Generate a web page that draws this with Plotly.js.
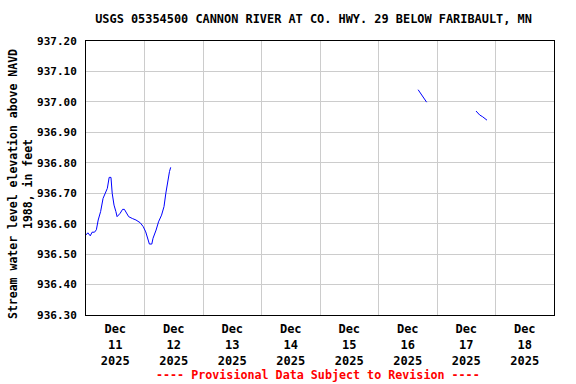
<!DOCTYPE html>
<html>
<head>
<meta charset="utf-8">
<script src="https://cdn.plot.ly/plotly-3.0.1.min.js"></script>
<style>html,body{margin:0;padding:0;background:#fff;}#chart{width:576px;height:384px;}</style>
</head>
<body>
<div id="chart"></div>
<script>
// Segment 1: Dec 11 - Dec 12
const times1 = ["2025-12-11 00:00","2025-12-11 00:45","2025-12-11 01:45","2025-12-11 02:30","2025-12-11 03:30","2025-12-11 04:15","2025-12-11 05:00","2025-12-11 06:00","2025-12-11 07:00","2025-12-11 08:00","2025-12-11 08:45","2025-12-11 09:30","2025-12-11 10:15","2025-12-11 10:45","2025-12-11 11:30","2025-12-11 12:15","2025-12-11 12:45","2025-12-11 14:00","2025-12-11 15:00","2025-12-11 15:45","2025-12-11 16:45","2025-12-11 17:30","2025-12-11 19:00","2025-12-11 20:30","2025-12-11 22:15","2025-12-11 23:30","2025-12-12 00:30","2025-12-12 01:30","2025-12-12 02:00","2025-12-12 03:00","2025-12-12 03:30","2025-12-12 04:45","2025-12-12 05:45","2025-12-12 07:00","2025-12-12 08:00","2025-12-12 08:45","2025-12-12 09:30","2025-12-12 10:15","2025-12-12 10:45"];
const values1 = [936.563,936.570,936.560,936.572,936.572,936.580,936.612,936.640,936.683,936.705,936.716,936.752,936.752,936.700,936.661,936.640,936.623,936.634,936.647,936.647,936.634,936.623,936.617,936.612,936.603,936.590,936.573,936.546,936.533,936.533,936.552,936.579,936.606,936.628,936.656,936.700,936.738,936.771,936.785];
// Segment 2: Dec 16
const times2 = ["2025-12-16 16:15","2025-12-16 17:00","2025-12-16 17:45","2025-12-16 18:30","2025-12-16 19:00","2025-12-16 19:45"];
const values2 = [937.040,937.031,937.023,937.015,937.006,936.999];
// Segment 3: Dec 17
const times3 = ["2025-12-17 16:00","2025-12-17 16:45","2025-12-17 17:30","2025-12-17 18:45","2025-12-17 19:45","2025-12-17 20:30"];
const values3 = [936.970,936.962,936.957,936.951,936.946,936.940];

const dayLabelPositions = ["2025-12-11 12:00","2025-12-12 12:00","2025-12-13 12:00","2025-12-14 12:00","2025-12-15 12:00","2025-12-16 12:00","2025-12-17 12:00","2025-12-18 12:00"];
const dayLabels = ["Dec<br>11<br>2025","Dec<br>12<br>2025","Dec<br>13<br>2025","Dec<br>14<br>2025","Dec<br>15<br>2025","Dec<br>16<br>2025","Dec<br>17<br>2025","Dec<br>18<br>2025"];
const midnights = ["2025-12-12","2025-12-13","2025-12-14","2025-12-15","2025-12-16","2025-12-17","2025-12-18"];

const FONT = "DejaVu Sans Mono";
const lineStyle = {color: "#0000FF", width: 1};
const traces = [[times1, values1], [times2, values2], [times3, values3]].map(([t, v]) => ({
  x: t, y: v, type: "scatter", mode: "lines", line: lineStyle, showlegend: false, hoverinfo: "skip"
}));

const layout = {
  width: 576, height: 384,
  margin: {l: 86, r: 22, t: 41, b: 69, pad: 0},
  paper_bgcolor: "#ffffff", plot_bgcolor: "#ffffff",
  title: {
    text: "USGS 05354500 CANNON RIVER AT CO. HWY. 29 BELOW FARIBAULT, MN",
    font: {family: FONT, size: 11.9, weight: "bold", color: "#000"},
    xref: "container", x: 313.5 / 576, xanchor: "center",
    yref: "container", y: 1 - 19/384, yanchor: "middle"
  },
  xaxis: {
    type: "date",
    range: ["2025-12-11 00:00", "2025-12-19 00:00"],
    tickmode: "array", tickvals: dayLabelPositions, ticktext: dayLabels,
    showgrid: false, ticks: "", zeroline: false, ticklabelstandoff: 3,
    showline: true, mirror: true, linecolor: "#000", linewidth: 1,
    tickfont: {family: FONT, size: 12, weight: "bold", color: "#000"},
    minor: {tickmode: "array", tickvals: midnights, showgrid: true, gridcolor: "#cccccc", gridwidth: 1, ticks: ""}
  },
  yaxis: {
    range: [936.30, 937.20],
    tickmode: "linear", tick0: 936.30, dtick: 0.1, tickformat: ".2f",
    showgrid: true, gridcolor: "#cccccc", gridwidth: 1, ticks: "", zeroline: false,
    ticklabelstandoff: 6,
    showline: true, mirror: true, linecolor: "#000", linewidth: 1,
    tickfont: {family: FONT, size: 11, weight: "bold", color: "#000"}
  },
  annotations: [{
    text: "Stream water level elevation above NAVD<br>1988, in feet",
    textangle: -90,
    xref: "paper", yref: "paper", x: (20 - 86) / 468, y: (315 - 184) / 274,
    xanchor: "center", yanchor: "middle", showarrow: false,
    font: {family: FONT, size: 11.5, weight: "bold", color: "#000"}
  }, {
    text: "---- Provisional Data Subject to Revision ----",
    xref: "paper", yref: "paper", x: (318 - 86) / 468, y: -(375 - 315) / 274,
    xanchor: "center", yanchor: "middle", showarrow: false,
    font: {family: FONT, size: 11.7, weight: "bold", color: "#FF0000"}
  }]
};

Plotly.newPlot("chart", traces, layout, {displayModeBar: false, staticPlot: true});
</script>
</body>
</html>
